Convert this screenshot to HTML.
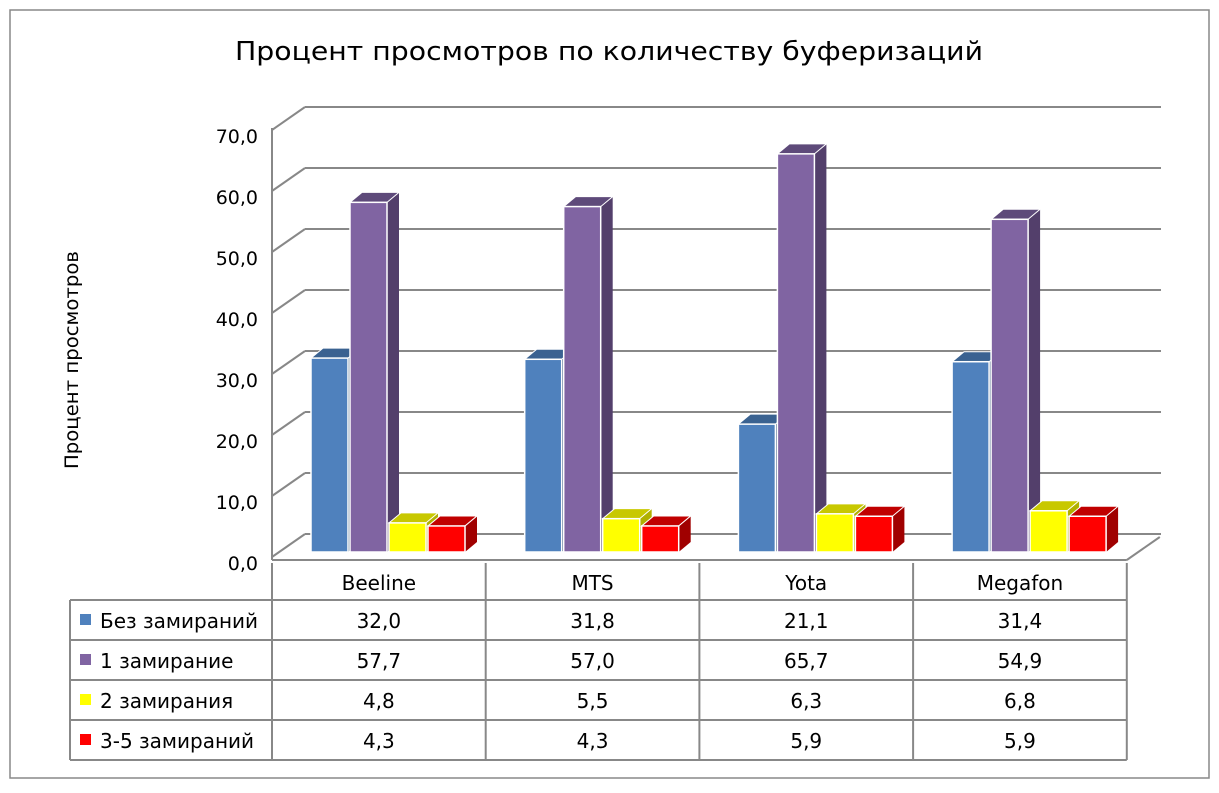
<!DOCTYPE html>
<html><head><meta charset="utf-8"><style>
body{margin:0;background:#fff;}
svg text{font-family:"DejaVu Sans","Liberation Sans",sans-serif;}
</style></head><body>
<svg id="c" width="1219" height="788" xmlns="http://www.w3.org/2000/svg">
<rect x="10" y="10" width="1199" height="768" fill="#fff" stroke="#888" stroke-width="1.5"/>
<text x="235" y="60" font-size="26" textLength="748" lengthAdjust="spacingAndGlyphs" fill="#000">Процент просмотров по количеству буферизаций</text>
<text transform="translate(78,360) rotate(-90)" font-size="19" textLength="218" lengthAdjust="spacingAndGlyphs" text-anchor="middle" fill="#000">Процент просмотров</text>
<g id="grid"></g><g id="bars"></g><g id="table"></g>
</svg>
<script>
const categories=["Beeline","MTS","Yota","Megafon"];
const seriesNames=["Без замираний","1 замирание","2 замирания","3-5 замираний"];
const s0=[32.0,31.8,21.1,31.4];
const s1=[57.7,57.0,65.7,54.9];
const s2=[4.8,5.5,6.3,6.8];
const s3=[4.3,4.3,5.9,5.9];
const yTicks=[0,10,20,30,40,50,60,70];
const series=[s0,s1,s2,s3];
const front=[["#4f81bd","#3a6291","#2f5077"],["#8064a2","#5e4a7a","#533f6b"],["#ffff00","#c8c800","#b0b000"],["#ff0000","#c00000","#a00000"]];
const NS="http://www.w3.org/2000/svg";
function el(t,a,p){const e=document.createElementNS(NS,t);for(const k in a)e.setAttribute(k,a[k]);p.appendChild(e);return e;}
const X0=272,CW=213.7,DX=33,DY=-23,FY=560,PPU=6.06;
function yGrid(v){return 557-v*6.1;}
const g=document.getElementById('grid');
el('line',{x1:X0,y1:128,x2:X0,y2:FY,stroke:'#888','stroke-width':2},g);
el('line',{x1:X0,y1:FY,x2:X0+4*CW,y2:FY,stroke:'#888','stroke-width':2},g);
el('line',{x1:X0+4*CW,y1:FY,x2:X0+4*CW+DX,y2:FY+DY,stroke:'#888','stroke-width':2},g);
yTicks.forEach(v=>{
 const y=yGrid(v);
 const a=el('line',{x1:X0,y1:y,x2:X0+DX,y2:y+DY,stroke:'#888','stroke-width':2},g);
 
 const b=el('line',{x1:X0+DX,y1:y+DY,x2:1161,y2:y+DY,stroke:'#888','stroke-width':2},g);
 
 const t=el('text',{x:258,y:y+13,'font-size':19,'text-anchor':'end',fill:'#000'},g);
 t.textContent=v.toFixed(1).replace('.',',');
 
});
const bg=document.getElementById('bars');
const BW=37,BS=39,dx=12,dy=-10,B0=552;
categories.forEach((c,i)=>{
 for(let s=0;s<4;s++){
  const v=series[s][i];const x=X0+i*CW+39+s*BS;const top=B0-v*PPU;const h=B0-top;
  const gr=el('g',{},bg);
  
  
  el('polygon',{points:`${x+BW},${top} ${x+BW+dx},${top+dy} ${x+BW+dx},${B0+dy} ${x+BW},${B0}`,fill:front[s][2]},gr);
  el('polygon',{points:`${x},${top} ${x+dx},${top+dy} ${x+BW+dx},${top+dy} ${x+BW},${top}`,fill:front[s][1],stroke:'#fff','stroke-width':1},gr);
  el('rect',{x:x,y:top,width:BW,height:h,fill:front[s][0],stroke:'#fff','stroke-width':1.5},gr);
 }
});
const tg=document.getElementById('table');
const rows=[563,600,640,680,720,760];
el('line',{x1:70,y1:600,x2:X0,y2:600,stroke:'#888','stroke-width':2},tg);
for(let r=1;r<rows.length;r++)el('line',{x1:70,y1:rows[r],x2:X0+4*CW,y2:rows[r],stroke:'#888','stroke-width':2},tg);
el('line',{x1:70,y1:600,x2:70,y2:760,stroke:'#888','stroke-width':2},tg);
for(let i=0;i<=4;i++)el('line',{x1:X0+i*CW,y1:563,x2:X0+i*CW,y2:760,stroke:'#888','stroke-width':2},tg);
categories.forEach((c,i)=>{
 const t=el('text',{x:X0+(i+.5)*CW,y:590,'font-size':20,'text-anchor':'middle'},tg);t.textContent=c;
 
 series.forEach((sr,s)=>{
  const v=el('text',{x:X0+(i+.5)*CW,y:rows[s+1]+28,'font-size':20,'text-anchor':'middle'},tg);
  v.textContent=sr[i].toFixed(1).replace('.',',');
  
 });
});
seriesNames.forEach((n,s)=>{
 const r=el('rect',{x:80,y:rows[s+1]+14,width:11,height:11,fill:front[s][0]},tg);
 
 const t=el('text',{x:100,y:rows[s+1]+28,'font-size':20},tg);t.textContent=n;
 
});
</script>
</body></html>
